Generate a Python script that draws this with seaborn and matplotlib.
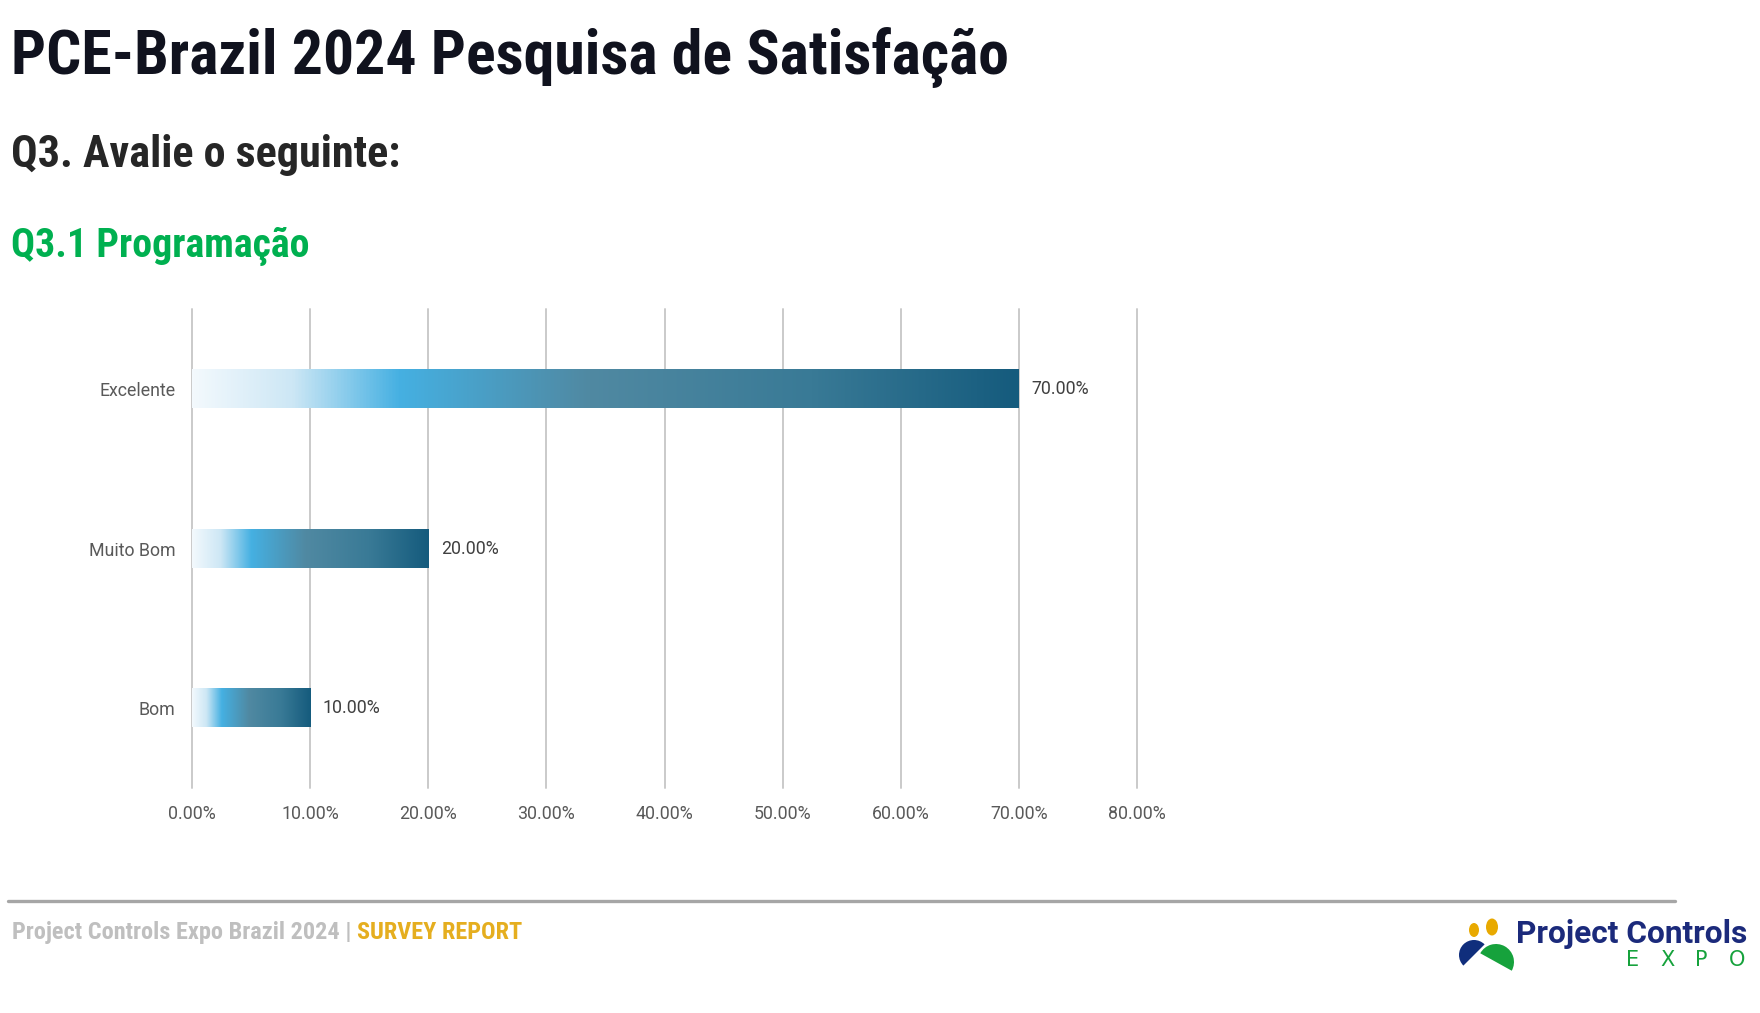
import matplotlib
matplotlib.use("Agg")
import matplotlib.pyplot as plt
import seaborn as sns
import pandas as pd
import numpy as np
from matplotlib import font_manager
from matplotlib.colors import LinearSegmentedColormap
from matplotlib.patches import Ellipse, Wedge
from matplotlib.lines import Line2D

# ---------------- data ----------------
categories = ["Excelente", "Muito Bom", "Bom"]
values = [70.0, 20.0, 10.0]
x_ticks = [0, 10, 20, 30, 40, 50, 60, 70, 80]
tick_labels = [f"{t:.2f}%" for t in x_ticks]
value_labels = [f"{v:.2f}%" for v in values]

title = "PCE-Brazil 2024 Pesquisa de Satisfação"
subtitle = "Q3. Avalie o seguinte:"
section = "Q3.1 Programação"
footer_left = "Project Controls Expo Brazil 2024 | "
footer_right = "SURVEY REPORT"
logo_text = "Project Controls"
logo_sub = ["E", "X", "P", "O"]

W, H = 1760, 1013
DPI = 100

sns.set_theme(style="white")

names = {f.name for f in font_manager.fontManager.ttflist}


def pick(*cands):
    for c in cands:
        if c in names:
            return c
    return "DejaVu Sans"


HEAD = pick("Roboto Condensed", "IBM Plex Sans Condensed", "Liberation Sans Narrow",
            "Roboto", "Inter")
BODY = pick("Roboto", "Inter", "Lato")
plt.rcParams["font.family"] = [BODY, "DejaVu Sans"]

fig = plt.figure(figsize=(W / DPI, H / DPI), dpi=DPI)
fig.patch.set_facecolor("white")
renderer = fig.canvas.get_renderer()


def px(x, y):
    return x / W, 1 - y / H


def fit_text(s, x, y, width, size0=30, **kw):
    t = fig.text(*px(x, y), s, fontsize=size0, va="baseline", ha="left", **kw)
    bb = t.get_window_extent(renderer=renderer)
    t.set_fontsize(size0 * width / bb.width)
    return t


# ---------------- headings ----------------
fit_text(title, 11, 74, 998, family=[HEAD, "DejaVu Sans"], weight="bold", color="#10121E")
fit_text(subtitle, 11, 167, 390, family=[HEAD, "DejaVu Sans"], weight="bold", color="#262626")
fit_text(section, 11, 257, 299, family=[HEAD, "DejaVu Sans"], weight="bold", color="#00B050")

# ---------------- chart ----------------
ax = fig.add_axes([192 / W, 1 - 788 / H, (1137 - 192) / W, (788 - 309) / H])
df = pd.DataFrame({"cat": categories, "val": values})
sns.barplot(data=df, x="val", y="cat", orient="h", width=0.24, color="#1B5E80",
            ax=ax, zorder=3)

cmap = LinearSegmentedColormap.from_list(
    "g", [(0.0, "#F3F9FD"), (0.12, "#CDE7F5"), (0.25, "#45B0E2"),
          (0.48, "#5089A2"), (0.75, "#397A96"), (1.0, "#155B7D")])
grad = np.linspace(0, 1, 512).reshape(1, -1)
for p in list(ax.patches):
    x0, y0, w, h = p.get_x(), p.get_y(), p.get_width(), p.get_height()
    p.set_facecolor("none")
    p.set_edgecolor("none")
    ax.imshow(grad, extent=[x0, x0 + w, y0 + h, y0], aspect="auto", cmap=cmap,
              zorder=3, interpolation="bilinear")

ax.bar_label(ax.containers[0], labels=value_labels, padding=9, fontsize=12.8,
             color="#404040")

ax.set_xlim(0, 80)
ax.set_ylim(2.5, -0.5)
ax.set_xticks(x_ticks)
ax.set_xticklabels(tick_labels)
ax.xaxis.grid(True, color="#CACACA", lw=1.4, zorder=0)
ax.yaxis.grid(False)
ax.set_axisbelow(True)
for s in ax.spines.values():
    s.set_visible(False)
ax.tick_params(axis="x", length=0, pad=12, labelsize=12.8, labelcolor="#595959")
ax.tick_params(axis="y", length=0, pad=12, labelsize=12.8, labelcolor="#595959")
ax.set_xlabel("")
ax.set_ylabel("")
for gl in ax.get_xgridlines():
    gl.set_clip_on(False)

# ---------------- footer ----------------
fig.add_artist(Line2D([8 / W, 1675 / W], [1 - 901 / H] * 2, color="#A6A6A6", lw=2.4))
t1 = fig.text(*px(12, 939), footer_left, fontsize=14, weight="bold", color="#BFBFBF",
              family=[HEAD, "DejaVu Sans"], va="baseline", ha="left")
bb = t1.get_window_extent(renderer=renderer)
t2 = fig.text(bb.x1 / W, 1 - 939 / H, footer_right, fontsize=14, weight="bold",
              color="#E5AE1F", family=[HEAD, "DejaVu Sans"], va="baseline", ha="left")
bb2 = t2.get_window_extent(renderer=renderer)
scale = (523 - 12) / (bb2.x1 - bb.x0)
t1.set_fontsize(14 * scale)
bb = t1.get_window_extent(renderer=renderer)
t2.set_fontsize(14 * scale)
t2.set_x(bb.x1 / W)

# ---------------- logo ----------------
lax = fig.add_axes([1440 / W, 1 - 990 / H, 320 / W, 90 / H])
lax.set_xlim(1440, 1760)
lax.set_ylim(H - 990, H - 900)
lax.axis("off")


def Y(y):
    return H - y


lax.add_patch(Wedge((1474, Y(955)), 15, 45, 225, color="#102E7C", lw=0))
lax.add_patch(Wedge((1496, Y(962)), 18, 331, 151, color="#16A23C", lw=0))
lax.add_patch(Ellipse((1474, Y(930)), 10, 14, color="#E8A900", lw=0))
lax.add_patch(Ellipse((1492, Y(927)), 12, 17, color="#E8A900", lw=0))

lt = lax.text(1516, Y(943), logo_text, fontsize=18, weight="bold", color="#1B2A7B",
              family=[BODY, "DejaVu Sans"], va="baseline", ha="left")
lbb = lt.get_window_extent(renderer=renderer)
lt.set_fontsize(18 * (1747 - 1516) / lbb.width)
for ch, xc in zip(logo_sub, [1633, 1667, 1701, 1737]):
    lax.text(xc, Y(966), ch, fontsize=15, color="#16A23C", weight="normal",
             family=["DejaVu Sans"], va="baseline", ha="center")

fig.savefig("out.png", dpi=DPI, facecolor="white")
